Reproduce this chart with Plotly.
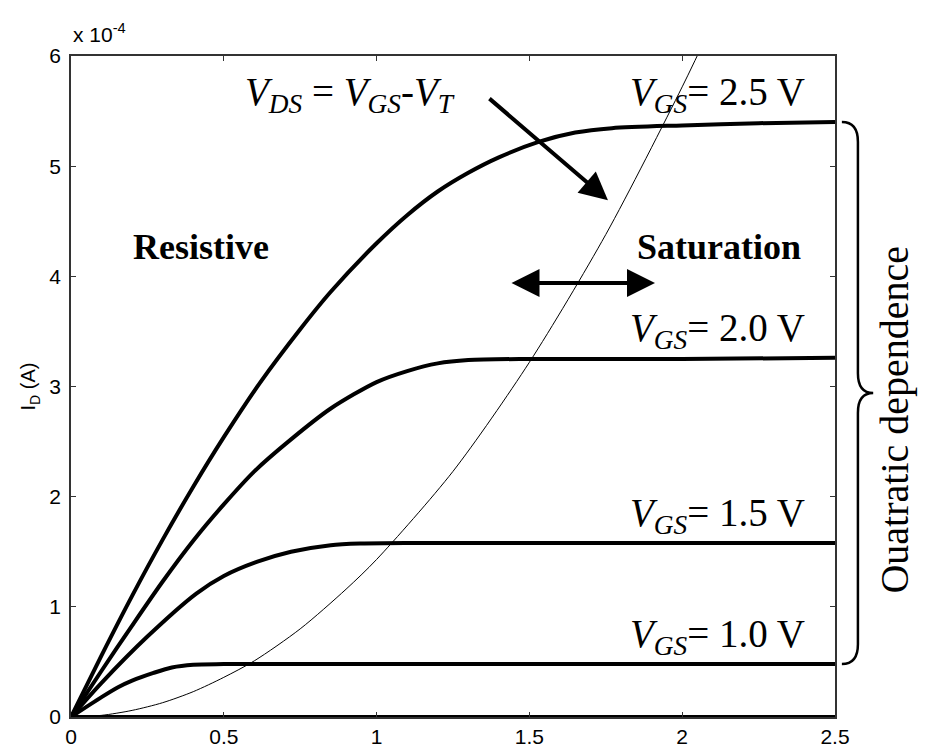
import plotly.graph_objects as go

# ---- data (I_D in units of 1e-4 A) ----
vgs25_v = [0, 0.1, 0.2, 0.3, 0.4, 0.5, 0.62, 0.75, 0.85, 1.0, 1.1, 1.2, 1.3, 1.4, 1.53, 1.65, 1.77, 2.0, 2.25, 2.5]
vgs25_i = [0, 0.56, 1.1, 1.61, 2.09, 2.54, 3.04, 3.52, 3.86, 4.30, 4.555, 4.77, 4.94, 5.08, 5.22, 5.305, 5.345, 5.37, 5.39, 5.40]

vgs20_v = [0, 0.1, 0.2, 0.3, 0.4, 0.5, 0.6, 0.72, 0.85, 1.0, 1.1, 1.2, 1.3, 1.5, 2.0, 2.5]
vgs20_i = [0, 0.42, 0.83, 1.23, 1.6, 1.93, 2.23, 2.52, 2.8, 3.04, 3.14, 3.21, 3.24, 3.25, 3.25, 3.26]

vgs15_v = [0, 0.1, 0.25, 0.41, 0.5, 0.61, 0.72, 0.85, 0.95, 1.1, 1.5, 2.0, 2.5]
vgs15_i = [0, 0.31, 0.73, 1.12, 1.28, 1.41, 1.5, 1.56, 1.575, 1.58, 1.58, 1.58, 1.58]

vgs10_v = [0, 0.1, 0.154, 0.2, 0.27, 0.33, 0.4, 0.5, 1.0, 1.5, 2.0, 2.5]
vgs10_i = [0, 0.18, 0.27, 0.33, 0.4, 0.45, 0.475, 0.48, 0.48, 0.48, 0.48, 0.48]

vgs05_v = [0, 2.5]
vgs05_i = [0, 0]

sat_v = [0, 0.1, 0.2, 0.3, 0.4, 0.5, 0.6, 0.75, 0.9, 1.0, 1.25, 1.5, 1.75, 2.0, 2.1]
sat_i = [0, 0.015, 0.06, 0.13, 0.23, 0.36, 0.51, 0.8, 1.16, 1.43, 2.23, 3.22, 4.38, 5.72, 6.3]

x_ticks = [0, 0.5, 1, 1.5, 2, 2.5]
x_ticklabels = ["0", "0.5", "1", "1.5", "2", "2.5"]
y_ticks = [0, 1, 2, 3, 4, 5, 6]
y_ticklabels = ["0", "1", "2", "3", "4", "5", "6"]

vgs_labels = ["2.5", "2.0", "1.5", "1.0"]
vgs_levels = [vgs25_i[-1], vgs20_i[-1], vgs15_i[-1], vgs10_i[-1]]

SERIF = "Liberation Serif, Times New Roman, serif"
SANS = "Liberation Sans, Arial, sans-serif"

fig = go.Figure()

thick = dict(color="black", width=4)
for xs, ys in [(vgs25_v, vgs25_i), (vgs20_v, vgs20_i), (vgs15_v, vgs15_i),
               (vgs10_v, vgs10_i), (vgs05_v, vgs05_i)]:
    fig.add_trace(go.Scatter(x=xs, y=ys, mode="lines", line=dict(**thick, shape="spline", smoothing=0.8),
                             showlegend=False, hoverinfo="skip"))

fig.add_trace(go.Scatter(x=sat_v, y=sat_i, mode="lines",
                         line=dict(color="black", width=1, shape="spline", smoothing=0.8),
                         showlegend=False, hoverinfo="skip"))

annotations = []
# V_GS labels
for lab, lev in zip(vgs_labels, vgs_levels):
    annotations.append(dict(
        x=1.823, y=lev, xref="x", yref="y", xanchor="left", yanchor="bottom",
        text=f"<i>V</i><sub><i>GS</i></sub>= {lab} V", showarrow=False,
        font=dict(family=SERIF, size=39, color="black"), yshift=1))

annotations += [
    dict(x=0.425, y=4.265, xref="x", yref="y", text="<b>Resistive</b>", showarrow=False,
         font=dict(family=SERIF, size=36, color="black")),
    dict(x=2.12, y=4.265, xref="x", yref="y", text="<b>Saturation</b>", showarrow=False,
         font=dict(family=SERIF, size=36, color="black")),
    dict(x=0.913, y=5.65, xref="x", yref="y",
         text="<i>V</i><sub><i>DS</i></sub> = <i>V</i><sub><i>GS</i></sub>-<i>V</i><sub><i>T</i></sub>",
         showarrow=False, font=dict(family=SERIF, size=39, color="black")),
    # diagonal arrow
    dict(x=1.757, y=4.69, xref="x", yref="y", ax=-120, ay=-103, text="", showarrow=True,
         arrowhead=2, arrowsize=1.4, arrowwidth=4, arrowcolor="black"),
    # double arrow
    dict(x=1.911, y=3.94, xref="x", yref="y", ax=-145, ay=0, text="", showarrow=True,
         arrowhead=2, startarrowhead=2, arrowside="end+start", arrowsize=1.4, startarrowsize=1.4,
         arrowwidth=4, arrowcolor="black"),
    # exponent label
    dict(x=0, y=1, xref="paper", yref="paper", xanchor="left", yanchor="bottom", yshift=8,
         text="x 10<sup>-4</sup>", showarrow=False, font=dict(family=SANS, size=21, color="black")),
    # y axis title
    dict(x=-0.0537, y=0.5, xref="paper", yref="paper", xanchor="center", yanchor="middle",
         text="I<sub>D</sub> (A)", textangle=-90,
         showarrow=False, font=dict(family=SANS, size=20, color="black")),
    # brace label
    dict(x=1.0785, y=0.45, xref="paper", yref="paper", xanchor="center", yanchor="middle",
         text="Ouatratic dependence", textangle=-90,
         showarrow=False, font=dict(family=SERIF, size=40, color="black")),
]

# curly brace between top and bottom saturation levels
top = vgs_levels[0]
bot = vgs_levels[-1]
mid = (top + bot) / 2
d = 0.18
x0, x1, x2 = 1.009, 1.030, 1.050
path = (f"M {x0},{top} Q {x1},{top} {x1},{top - d} "
        f"L {x1},{mid + d} Q {x1},{mid} {x2},{mid} "
        f"Q {x1},{mid} {x1},{mid - d} "
        f"L {x1},{bot + d} Q {x1},{bot} {x0},{bot}")
fig.add_shape(type="path", path=path, xref="paper", yref="y",
              line=dict(color="black", width=2.5))

fig.update_layout(
    width=925, height=749,
    margin=dict(l=71, r=90, t=56, b=32),
    paper_bgcolor="white", plot_bgcolor="white",
    annotations=annotations,
    showlegend=False,
    xaxis=dict(range=[0, 2.5], tickvals=x_ticks, ticktext=x_ticklabels, ticks="inside", ticklen=5,
               showgrid=False, zeroline=False, showline=True, linecolor="#333", linewidth=1.5,
               mirror="ticks", tickcolor="#333", automargin=False, ticklabelstandoff=0,
               tickfont=dict(family=SANS, size=21, color="black")),
    yaxis=dict(range=[0, 6], tickvals=y_ticks, ticktext=y_ticklabels, ticks="inside", ticklen=5,
               showgrid=False, zeroline=False, showline=True, linecolor="#333", linewidth=1.5,
               mirror="ticks", tickcolor="#333", automargin=False, ticklabelstandoff=4,
               tickfont=dict(family=SANS, size=21, color="black")),
)

fig.write_html("out.html", config={"displayModeBar": False},
               post_script="document.body.style.margin='0px';")
